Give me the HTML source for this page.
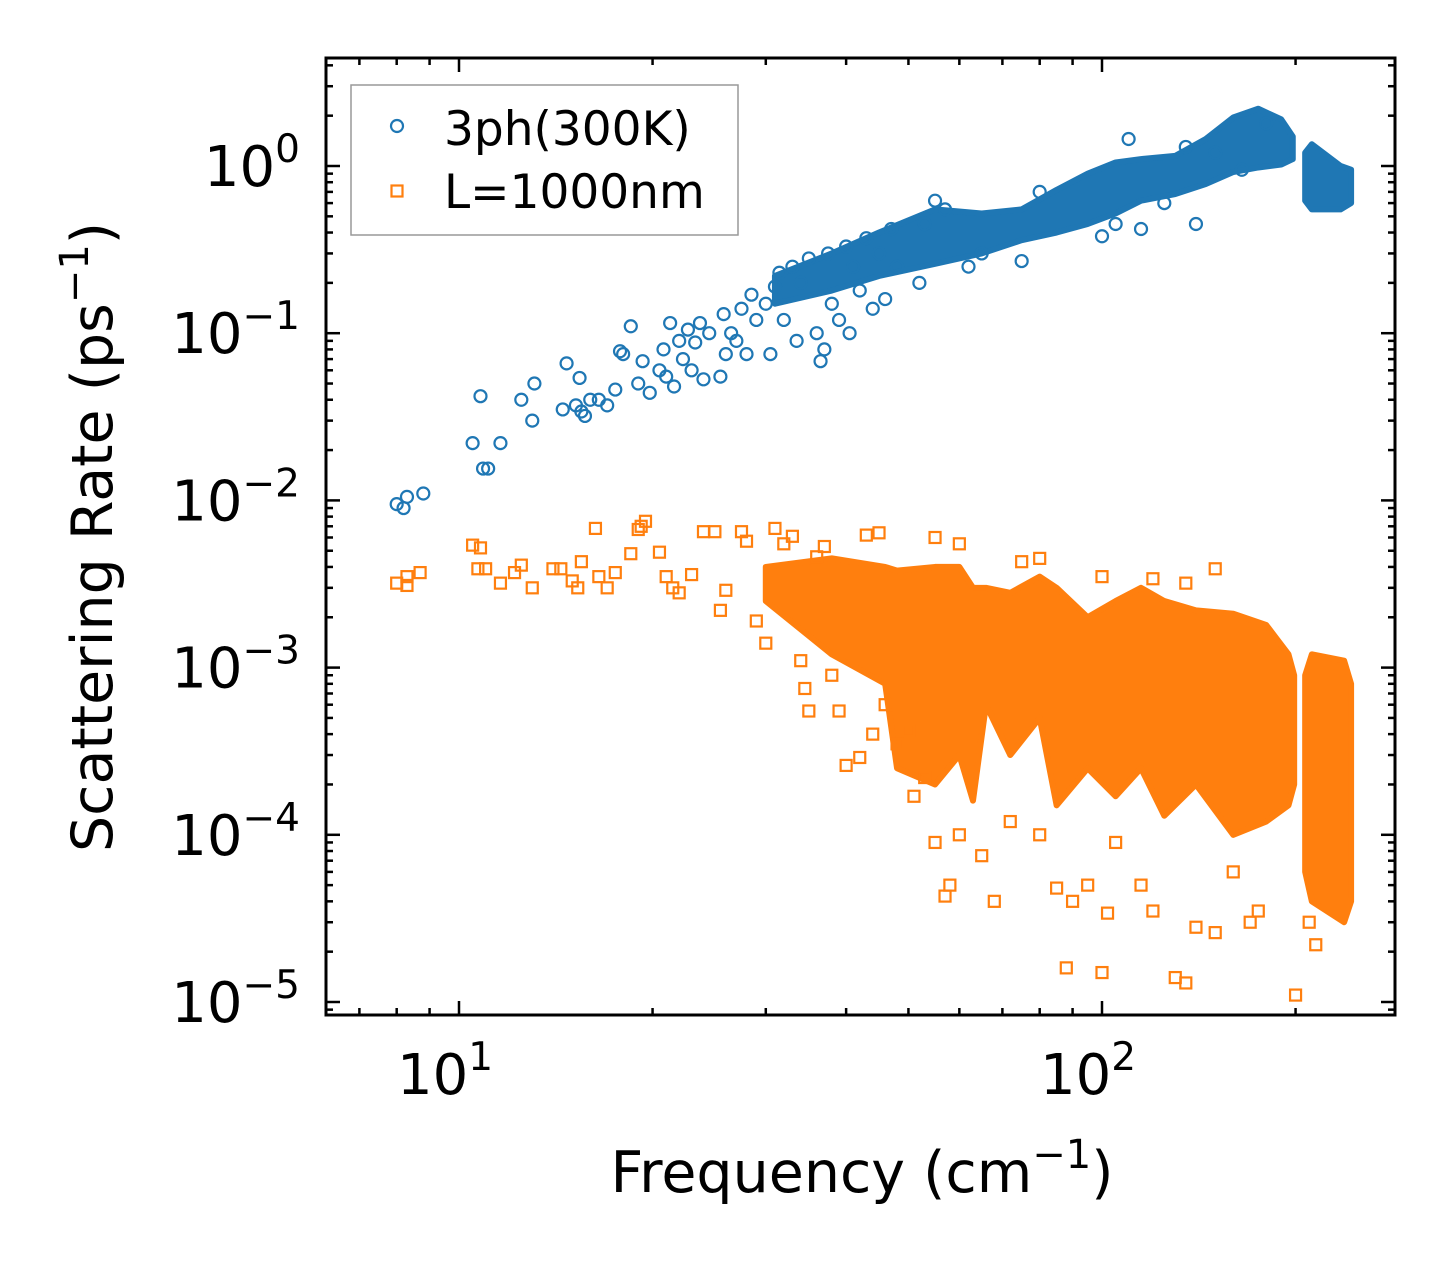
<!DOCTYPE html>
<html><head><meta charset="utf-8">
<style>
body{margin:0;background:#fff;}
svg text{font-family:"DejaVu Sans","Liberation Sans",sans-serif;fill:#000;}
</style></head>
<body>
<svg id="chart" width="1455" height="1265" xmlns="http://www.w3.org/2000/svg">
<rect width="1455" height="1265" fill="#fff"/>
<g id="bands"></g>
<g id="marks"></g>
<g id="axes"></g>
</svg>
<script>
// ---- data ----
const blueFreq=[8,8.2,8.3,8.8,10.5,10.8,10.9,11.1,11.6,12.5,13,13.1,14.5,14.7,15.2,15.4,15.5,15.7,16,16.5,17,17.5,17.8,18,18.5,19,19.3,19.8,20.5,20.8,21,21.3,21.6,22,22.3,22.7,23,23.3,23.7,24,24.5,25.5,25.8,26,26.5,27,27.5,28,28.5,29,30,30.5,31,31.5,32,33,33.5,34,35,36,36.5,37,37.5,38,39,40,40.5,41,42,43,44,45,46,47,48,52,53,55,57,62,65,75,80,100,105,110,115,125,135,140,150,165,180];
const blueRate=[0.0095,0.009,0.0105,0.011,0.022,0.042,0.0155,0.0155,0.022,0.04,0.03,0.05,0.035,0.066,0.037,0.054,0.034,0.032,0.04,0.04,0.037,0.046,0.078,0.075,0.11,0.05,0.068,0.044,0.06,0.08,0.055,0.115,0.048,0.09,0.07,0.105,0.06,0.088,0.115,0.053,0.1,0.055,0.13,0.075,0.1,0.09,0.14,0.075,0.17,0.12,0.15,0.075,0.19,0.23,0.12,0.25,0.09,0.2,0.28,0.1,0.068,0.08,0.3,0.15,0.12,0.33,0.1,0.25,0.18,0.37,0.14,0.3,0.16,0.42,0.25,0.2,0.45,0.62,0.55,0.25,0.3,0.27,0.7,0.38,0.45,1.45,0.42,0.6,1.3,0.45,1.2,0.95,1.8];
const orangeFreq=[8,8.3,8.3,8.7,10.5,10.8,10.7,11,11.6,12.2,12.5,13,14,14.4,15,15.5,15.3,16.3,16.5,17,17.5,18.5,19,19.5,19.2,20.5,21,21.5,22,23,24,25,25.5,26,27.5,28,29,30,31,32,33,34,34.5,35,36,37,38,39,40,42,44,46,48,50,51,53,55,57,58,60,65,68,72,80,85,88,90,95,100,102,105,115,120,130,135,140,150,160,170,175,200,210,215,120,135,150,80,75,60,55,45,43,100];
const orangeRate=[0.0032,0.0035,0.0031,0.0037,0.0054,0.0052,0.0039,0.0039,0.0032,0.0037,0.0041,0.003,0.0039,0.0039,0.0033,0.0043,0.003,0.0068,0.0035,0.003,0.0037,0.0048,0.0067,0.0075,0.007,0.0049,0.0035,0.003,0.0028,0.0036,0.0065,0.0065,0.0022,0.0029,0.0065,0.0057,0.0019,0.0014,0.0068,0.0055,0.0061,0.0011,0.00075,0.00055,0.0046,0.0053,0.0009,0.00055,0.00026,0.00029,0.0004,0.0006,0.00035,0.00042,0.00017,0.00022,0.00009,0.000043,0.00005,0.0001,0.000075,0.00004,0.00012,0.0001,0.000048,0.000016,0.00004,0.00005,0.000015,0.000034,0.00009,0.00005,0.000035,0.000014,0.000013,0.000028,0.000026,0.00006,0.00003,0.000035,0.000011,0.00003,0.000022,0.0034,0.0032,0.0039,0.0045,0.0043,0.0055,0.006,0.0064,0.0062,0.0035];
// dense clouds (envelope values)
const blueBandF=[31,38,45,55,65,75,85,95,105,115,130,145,160,175,190,198];
const blueBandHi=[0.22,0.3,0.4,0.55,0.52,0.55,0.72,0.9,1.05,1.1,1.15,1.45,1.95,2.2,1.9,1.5];
const blueBandLo=[0.15,0.18,0.22,0.26,0.3,0.36,0.4,0.45,0.52,0.62,0.68,0.78,0.92,0.98,1.02,1.1];
const blueBand2F=[207,212,235,244];
const blueBand2Hi=[1.2,1.35,1.0,0.95];
const blueBand2Lo=[0.62,0.55,0.55,0.6];
const orBandF=[30,38,46,48,55,60,63,66,72,80,85,95,105,115,125,140,160,180,195,199];
const orBandHi=[0.004,0.0045,0.004,0.0038,0.004,0.004,0.003,0.003,0.0028,0.0035,0.003,0.002,0.0025,0.003,0.0025,0.0022,0.0021,0.0018,0.0012,0.0009];
const orBandLo=[0.0025,0.0012,0.0008,0.00025,0.0002,0.0003,0.00016,0.0006,0.0003,0.0005,0.00015,0.00025,0.00017,0.00025,0.00013,0.0002,0.0001,0.00012,0.00015,0.0002];
const orBand2F=[207,212,238,244];
const orBand2Hi=[0.0009,0.0012,0.0011,0.0008];
const orBand2Lo=[0.00006,0.00004,0.00003,0.00004];
const xTickVals=[1,2];
const yTickVals=[0,-1,-2,-3,-4,-5];

// ---- axes ----
const L=326,R=1395,T=58,B=1015;
const X=f=>459+(Math.log10(f)-1)*643;
const Y=r=>166-Math.log10(r)*167.2;
const NS="http://www.w3.org/2000/svg";
function mk(tag,attrs,parent){const e=document.createElementNS(NS,tag);for(const k in attrs)e.setAttribute(k,attrs[k]);parent.appendChild(e);return e;}
const bands=document.getElementById('bands'),marks=document.getElementById('marks'),axes=document.getElementById('axes');

function band(F,H,Lo,color,name){
  let pts=F.map((f,i)=>X(f)+','+Y(H[i]));
  for(let i=F.length-1;i>=0;i--)pts.push(X(F[i])+','+Y(Lo[i]));
  const p=mk('polygon',{points:pts.join(' '),fill:color,stroke:color,'stroke-width':6,'stroke-linejoin':'round'},bands);
  
  
}
band(orBandF,orBandHi,orBandLo,'#ff7f0e','orange-dense-cloud');
band(orBand2F,orBand2Hi,orBand2Lo,'#ff7f0e','orange-dense-cloud-high-freq');
band(blueBandF,blueBandHi,blueBandLo,'#1f77b4','blue-dense-cloud');
band(blueBand2F,blueBand2Hi,blueBand2Lo,'#1f77b4','blue-dense-cloud-high-freq');

orangeFreq.forEach((f,i)=>{
  const s=mk('rect',{x:X(f)-5.5,y:Y(orangeRate[i])-5.5,width:11,height:11,fill:'none',stroke:'#ff7f0e','stroke-width':2.2},marks);
  
  
});
blueFreq.forEach((f,i)=>{
  const c=mk('circle',{cx:X(f),cy:Y(blueRate[i]),r:6,fill:'none',stroke:'#1f77b4','stroke-width':2.2},marks);
  
  
});

const fr=mk('rect',{x:L,y:T,width:R-L,height:B-T,fill:'none',stroke:'#000','stroke-width':3},axes);


for(let d=0;d<=2;d++){for(let m=1;m<10;m++){const f=m*Math.pow(10,d);const x=X(f);if(x<L||x>R)continue;const len=m===1?14:7;
  mk('line',{x1:x,y1:B,x2:x,y2:B-len,stroke:'#000','stroke-width':2.5},axes);
  mk('line',{x1:x,y1:T,x2:x,y2:T+len,stroke:'#000','stroke-width':2.5},axes);}}
xTickVals.forEach(e=>{const t=mk('text',{x:X(Math.pow(10,e))-14,y:1094,'font-size':56,'text-anchor':'middle'},axes);
  
  
  t.innerHTML='10<tspan dy="-24" font-size="39">'+e+'</tspan>';});
for(let d=-6;d<=1;d++){for(let m=1;m<10;m++){const r=m*Math.pow(10,d);const y=Y(r);if(y<T||y>B)continue;const len=m===1?14:7;
  mk('line',{x1:L,y1:y,x2:L+len,y2:y,stroke:'#000','stroke-width':2.5},axes);
  mk('line',{x1:R,y1:y,x2:R-len,y2:y,stroke:'#000','stroke-width':2.5},axes);}}
yTickVals.forEach(e=>{const t=mk('text',{x:300,y:Y(Math.pow(10,e))+20,'font-size':56,'text-anchor':'end'},axes);
  
  
  t.innerHTML='10<tspan dy="-24" font-size="39">'+(e<0?'\u2212'+(-e):e)+'</tspan>';});
const xt=mk('text',{x:862,y:1192,'font-size':57,'text-anchor':'middle'},axes);


xt.innerHTML='Frequency (cm<tspan dy="-24" font-size="40">\u22121</tspan><tspan dy="24">)</tspan>';
const yt=mk('text',{x:0,y:0,'font-size':57,'text-anchor':'middle',transform:'translate(112,537) rotate(-90)'},axes);


yt.innerHTML='Scattering Rate (ps<tspan dy="-24" font-size="40">\u22121</tspan><tspan dy="24">)</tspan>';
const lg=mk('g',{},axes);


mk('rect',{x:351,y:85,width:387,height:150,fill:'#fff',stroke:'#999','stroke-width':1.5},lg);
const e1=mk('circle',{cx:397,cy:126,r:6,fill:'none',stroke:'#1f77b4','stroke-width':2.2},lg);


const t1=mk('text',{x:444,y:145,'font-size':47},lg);t1.textContent='3ph(300K)';


const e2=mk('rect',{x:391.5,y:185.5,width:11,height:11,fill:'none',stroke:'#ff7f0e','stroke-width':2.2},lg);


const t2=mk('text',{x:444,y:208,'font-size':47},lg);t2.textContent='L=1000nm';


</script>
</body></html>
